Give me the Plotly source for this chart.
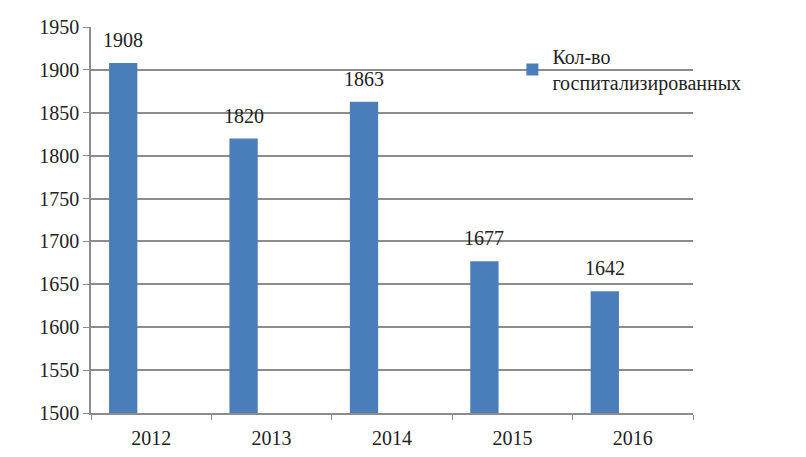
import plotly.graph_objects as go

years = ["2012", "2013", "2014", "2015", "2016"]
hospitalized = [1908, 1820, 1863, 1677, 1642]
series_name = "Кол-во<br>госпитализированных"
y_ticks = list(range(1500, 1951, 50))

FONT = "Liberation Serif"
BAR_COLOR = "#4A7EBB"
GRID = "#8c8c8c"
TEXT = "#222222"

BAR_WIDTH = 0.235
BAR_OFFSET = -0.35

fig = go.Figure()
fig.add_trace(go.Bar(
    x=years,
    y=hospitalized,
    name=series_name,
    marker=dict(color=BAR_COLOR, line=dict(width=0)),
    width=BAR_WIDTH,
    offset=BAR_OFFSET,
))

# value labels above each bar, centred on the shifted bar (category index units)
for i, v in enumerate(hospitalized):
    fig.add_annotation(
        x=i + BAR_OFFSET + BAR_WIDTH / 2, y=v, text=str(v), showarrow=False,
        yshift=23, yanchor="middle",
        font=dict(family=FONT, size=20, color=TEXT),
    )

fig.update_layout(
    width=806,
    height=457,
    margin=dict(l=91, r=113, t=27, b=44),
    paper_bgcolor="white",
    plot_bgcolor="white",
    font=dict(family=FONT, size=20, color=TEXT),
    showlegend=True,
    legend=dict(
        x=0.7, y=0.974, xanchor="left", yanchor="top",
        bgcolor="rgba(0,0,0,0)",
        font=dict(family=FONT, size=20, color=TEXT),
        itemwidth=30,
        tracegroupgap=0,
    ),
)

fig.update_yaxes(
    range=[1500, 1950],
    tickvals=y_ticks,
    tickfont=dict(family=FONT, size=20, color=TEXT),
    showgrid=True,
    gridcolor=GRID,
    gridwidth=1.5,
    showline=True,
    linecolor=GRID,
    linewidth=1.5,
    ticks="outside",
    ticklen=6,
    tickcolor=GRID,
    zeroline=False,
    automargin=False,
)
fig.update_xaxes(
    type="category",
    range=[-0.5, len(years) - 0.5],
    tickfont=dict(family=FONT, size=20, color=TEXT),
    showline=True,
    linecolor=GRID,
    linewidth=1.5,
    ticks="outside",
    tickson="boundaries",
    ticklen=5,
    tickcolor=GRID,
    ticklabelstandoff=6,
    showgrid=False,
    automargin=False,
)

fig.write_html("out.html")
